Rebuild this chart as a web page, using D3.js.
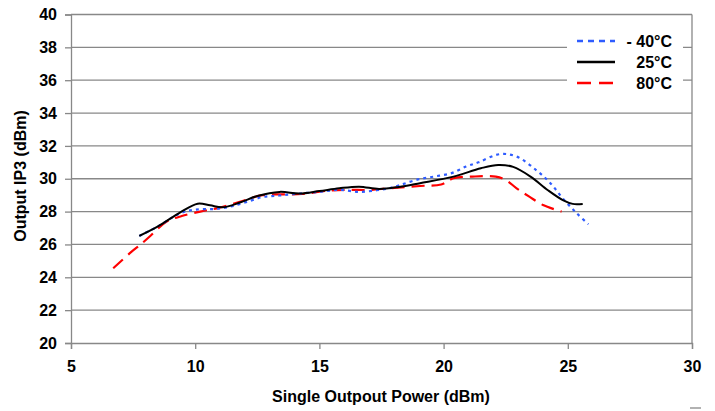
<!DOCTYPE html>
<html><head><meta charset="utf-8">
<script src="https://cdn.jsdelivr.net/npm/d3@7"></script>
<style>body{margin:0;background:#fff}svg{display:block}text{font-family:"Liberation Sans",Arial,sans-serif;font-weight:bold;fill:#000}</style>
</head><body>
<svg id="c" width="715" height="411"></svg>
<script>
const xTicks = [5,10,15,20,25,30];
const yTicks = [20,22,24,26,28,30,32,34,36,38,40];
const seriesNames = ["- 40°C","25°C","80°C"];
const minus40 = [[7.75,26.52],[8.5,27.1],[9.4,27.9],[10.0,28.12],[10.8,28.16],[11.4,28.3],[12.0,28.55],[12.7,28.88],[13.4,28.98],[14.2,29.1],[15.0,29.2],[15.8,29.32],[16.6,29.2],[17.3,29.3],[17.8,29.42],[18.25,29.62],[18.9,29.93],[19.6,30.13],[20.3,30.33],[20.9,30.74],[21.4,31.0],[22.27,31.5],[22.94,31.35],[23.75,30.5],[24.3,29.73],[24.8,28.8],[25.36,27.9],[25.83,27.23]];
const plus25 = [[7.75,26.52],[8.5,27.1],[9.4,27.95],[10.1,28.48],[10.6,28.38],[11.1,28.26],[11.8,28.55],[12.5,28.95],[13.4,29.2],[14.2,29.1],[15.0,29.25],[15.8,29.42],[16.6,29.52],[17.4,29.38],[18.2,29.5],[19.05,29.73],[20.4,30.13],[21.5,30.64],[22.2,30.84],[22.8,30.72],[23.5,30.13],[24.2,29.3],[24.8,28.7],[25.2,28.47],[25.6,28.47]];
const plus80 = [[6.7,24.55],[7.44,25.56],[7.78,25.97],[8.18,26.5],[8.85,27.39],[9.46,27.73],[10.2,28.0],[10.87,28.2],[11.8,28.6],[12.7,29.0],[13.5,29.05],[14.3,29.07],[15.4,29.28],[16.2,29.32],[17.0,29.32],[17.8,29.42],[19.05,29.56],[19.9,29.65],[20.4,30.03],[21.15,30.13],[22.1,30.13],[22.5,29.93],[22.94,29.42],[23.45,28.91],[24.0,28.4],[24.75,28.0]];

const svg = d3.select("#c");
const L=71,R=692,T=14.5,B=343;
const x = d3.scaleLinear().domain([5,30]).range([L,R]);
const y = d3.scaleLinear().domain([20,40]).range([B,T]);
const grid="#888";

// gridlines
svg.append("g").selectAll("line").data(yTicks.slice(1)).join("line")
  .attr("x1",L).attr("x2",R).attr("y1",d=>y(d)).attr("y2",d=>y(d))
  .attr("stroke",grid).attr("stroke-width",1.3);
// right border
svg.append("line").attr("x1",R).attr("x2",R).attr("y1",T).attr("y2",B).attr("stroke",grid).attr("stroke-width",1.3);

// axes
const xa = svg.append("g").attr("transform",`translate(0,${B})`)
  .call(d3.axisBottom(x).tickValues(xTicks).tickSize(6).tickPadding(12));
const ya = svg.append("g").attr("transform",`translate(${L},0)`)
  .call(d3.axisLeft(y).tickValues(yTicks).tickSize(6).tickPadding(8));
[xa,ya].forEach(a=>{
  a.select(".domain").attr("stroke",grid).attr("stroke-width",1.3);
  a.selectAll(".tick line").attr("stroke",grid).attr("stroke-width",1.3);
  a.selectAll(".tick text").attr("font-size",16).attr("font-family",null).style("fill","#000");
});

const line = d3.line().x(d=>x(d[0])).y(d=>y(d[1])).curve(d3.curveCatmullRom.alpha(0.5));
const styles = [
  {data:minus40,color:"#2f5cff",dash:"3,4",ldash:"6,5",w:2.2},
  {data:plus25,color:"#000",dash:null,ldash:null,w:2},
  {data:plus80,color:"#ff0000",dash:"13,7",ldash:"14,8",w:2.2}
];
const order=[2,0,1];
order.forEach(i=>{
  const s=styles[i];
  svg.append("path").attr("d",line(s.data)).attr("fill","none")
    .attr("stroke",s.color).attr("stroke-width",s.w)
    .attr("stroke-dasharray",s.dash);
});

// legend
const lg = svg.append("g");
lg.append("rect").attr("x",567).attr("y",28).attr("width",116).attr("height",70).attr("fill","#fff");
const ly=[41,62,83];
seriesNames.forEach((n,i)=>{
  const s=styles[i];
  lg.append("line").attr("x1",577).attr("x2",615).attr("y1",ly[i]).attr("y2",ly[i])
    .attr("stroke",s.color).attr("stroke-width",2.5).attr("stroke-dasharray",s.ldash);
  lg.append("text").attr("x",672).attr("y",ly[i]+6).attr("text-anchor","end").attr("font-size",16).text(n);
});

// titles
svg.append("text").attr("x",381).attr("y",402).attr("text-anchor","middle").attr("font-size",16).text("Single Outpout Power (dBm)");
svg.append("text").attr("transform","translate(26,176) rotate(-90)").attr("text-anchor","middle").attr("font-size",16).text("Output IP3 (dBm)");
svg.append("line").attr("x1",690).attr("x2",701).attr("y1",408).attr("y2",408).attr("stroke","#888").attr("stroke-width",1.3);
</script>
</body></html>
